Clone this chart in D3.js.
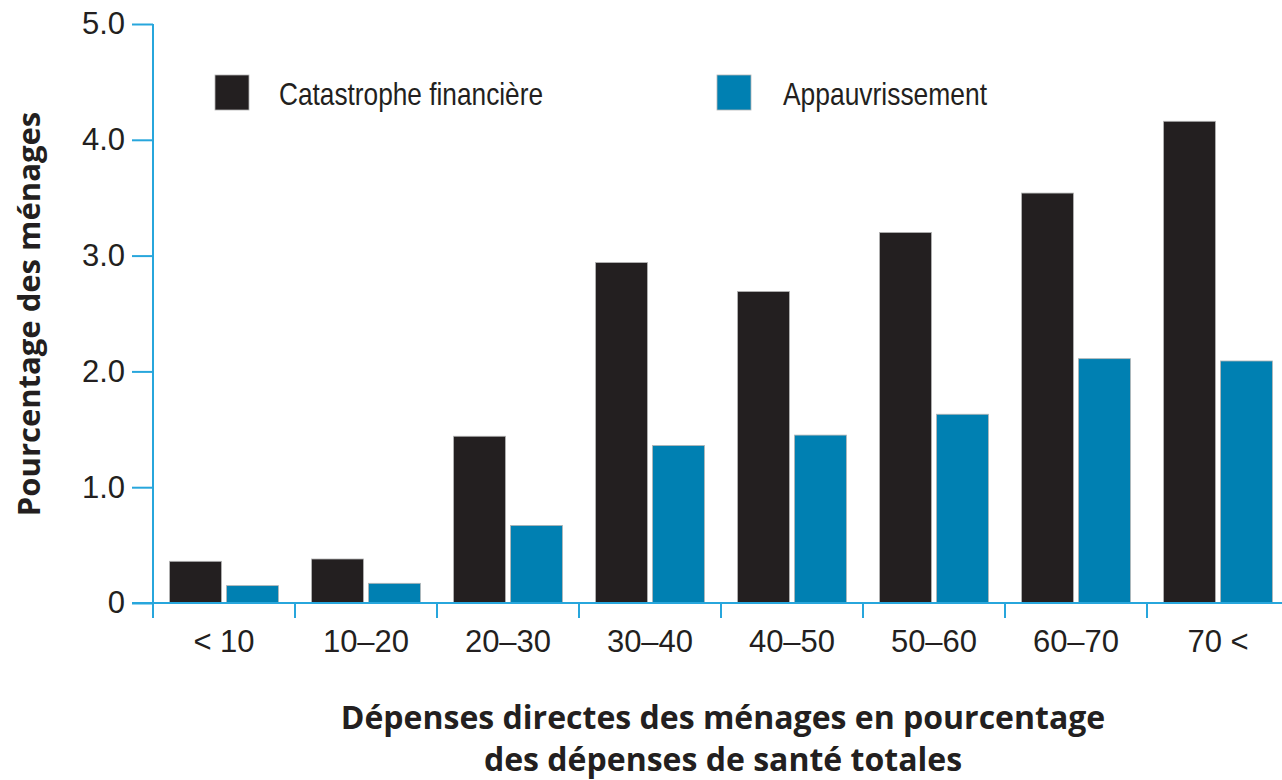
<!DOCTYPE html>
<html>
<head>
<meta charset="utf-8">
<script src="https://cdn.jsdelivr.net/npm/d3@7"></script>
<style>
  body { margin: 0; background: #fff; }
  svg { display: block; }
  .tick text { font-family: "Liberation Sans Narrow", "Liberation Sans", sans-serif; fill: #231f20; }
</style>
</head>
<body>
<svg id="chart"></svg>
<script>
// Data
var categories = ["< 10", "10\u201320", "20\u201330", "30\u201340", "40\u201350", "50\u201360", "60\u201370", "70 <"];
var catastrophe = [0.36, 0.38, 1.44, 2.94, 2.69, 3.20, 3.54, 4.16];
var appauvrissement = [0.15, 0.17, 0.67, 1.36, 1.45, 1.63, 2.11, 2.09];
var seriesNames = ["Catastrophe financière", "Appauvrissement"];
var seriesColors = ["#231f20", "#0080b2"];
var yTicks = [0, 1, 2, 3, 4, 5];

var width = 1282, height = 780;
var axisColor = "#27a6dc";

var svg = d3.select("#chart")
  .attr("width", width)
  .attr("height", height);

// scales
var x0 = d3.scaleBand()
  .domain(categories)
  .range([153, 1289])
  .paddingInner(0.233)
  .paddingOuter(0.1165);

var x1 = d3.scaleBand()
  .domain(seriesNames)
  .range([0, x0.bandwidth()])
  .paddingInner(0.0877);

var y = d3.scaleLinear()
  .domain([0, 5])
  .range([603, 24]);

var rows = categories.map(function(c, i) {
  return { cat: c, values: [catastrophe[i], appauvrissement[i]] };
});

// bars
var groups = svg.selectAll("g.cat")
  .data(rows)
  .enter().append("g")
  .attr("class", "cat")
  .attr("transform", function(d) { return "translate(" + x0(d.cat) + ",0)"; });

groups.selectAll("rect")
  .data(function(d) { return d.values.map(function(v, k) { return { s: seriesNames[k], v: v, k: k }; }); })
  .enter().append("rect")
  .attr("x", function(d) { return x1(d.s); })
  .attr("y", function(d) { return y(d.v); })
  .attr("width", x1.bandwidth())
  .attr("height", function(d) { return y(0) - y(d.v); })
  .attr("fill", function(d) { return seriesColors[d.k]; })
  .attr("stroke", "#b5b5b5")
  .attr("stroke-width", 0.8);

// y axis
var yAxis = svg.append("g")
  .attr("transform", "translate(153,0)")
  .call(d3.axisLeft(y)
    .tickValues(yTicks)
    .tickSize(21)
    .tickPadding(7)
    .tickFormat(function(d) { return d === 0 ? "0" : d.toFixed(1); }));
yAxis.select(".domain").remove();
yAxis.selectAll(".tick line").attr("stroke", axisColor).attr("stroke-width", 2);
yAxis.selectAll(".tick text").style("font-size", "31px");
yAxis.append("line")
  .attr("x1", 0).attr("x2", 0)
  .attr("y1", y(5)).attr("y2", y(0) + 15)
  .attr("stroke", axisColor).attr("stroke-width", 2);

// x axis
var xAxis = svg.append("g")
  .attr("transform", "translate(0," + y(0) + ")")
  .call(d3.axisBottom(x0).tickSize(0).tickPadding(27));
xAxis.select(".domain").remove();
xAxis.selectAll(".tick text").style("font-size", "31px");
xAxis.append("line")
  .attr("x1", 132).attr("x2", width)
  .attr("y1", 0).attr("y2", 0)
  .attr("stroke", axisColor).attr("stroke-width", 2);
xAxis.selectAll("line.bound")
  .data(d3.range(1, categories.length + 1))
  .enter().append("line")
  .attr("class", "bound")
  .attr("x1", function(i) { return x0.range()[0] + i * x0.step(); })
  .attr("x2", function(i) { return x0.range()[0] + i * x0.step(); })
  .attr("y1", 0).attr("y2", 15)
  .attr("stroke", axisColor).attr("stroke-width", 2);

// legend (text squeezed to the narrow face of the original)
var legendX = [215, 717];
var legendTextW = [264, 204];
var legend = svg.selectAll("g.legend")
  .data(seriesNames)
  .enter().append("g")
  .attr("class", "legend")
  .attr("transform", function(d, i) { return "translate(" + legendX[i] + ",75)"; });
legend.append("rect")
  .attr("width", 34).attr("height", 35)
  .attr("fill", function(d, i) { return seriesColors[i]; })
  .attr("stroke", "#b5b5b5").attr("stroke-width", 0.8);
legend.append("text")
  .attr("x", function(d, i) { return i === 0 ? 64 : 66; })
  .attr("y", 30)
  .attr("textLength", function(d, i) { return legendTextW[i]; })
  .attr("lengthAdjust", "spacingAndGlyphs")
  .style("font-family", "'Liberation Sans', sans-serif")
  .style("font-size", "32px")
  .style("fill", "#231f20")
  .text(function(d) { return d; });

// axis titles
svg.append("text")
  .attr("transform", "translate(40,314) rotate(-90)")
  .attr("text-anchor", "middle")
  .style("font-family", "'Open Sans', sans-serif")
  .style("font-weight", 700)
  .style("font-size", "31px")
  .style("fill", "#231f20")
  .text("Pourcentage des ménages");

var xTitle = ["Dépenses directes des ménages en pourcentage", "des dépenses de santé totales"];
svg.selectAll("text.xtitle")
  .data(xTitle)
  .enter().append("text")
  .attr("class", "xtitle")
  .attr("x", 723)
  .attr("y", function(d, i) { return 729 + i * 42; })
  .attr("text-anchor", "middle")
  .style("font-family", "'Open Sans', sans-serif")
  .style("font-weight", 700)
  .style("font-size", "32px")
  .style("fill", "#231f20")
  .text(function(d) { return d; });
</script>
</body>
</html>
